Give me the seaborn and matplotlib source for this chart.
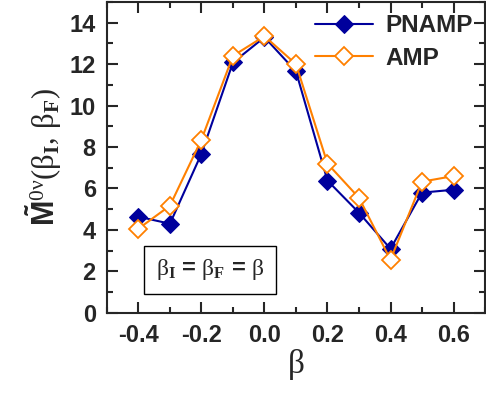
import matplotlib
matplotlib.use("Agg")
import matplotlib.pyplot as plt
import seaborn as sns
import pandas as pd
from matplotlib.ticker import MultipleLocator

beta = [-0.4, -0.3, -0.2, -0.1, 0.0, 0.1, 0.2, 0.3, 0.4, 0.5, 0.6]
pnamp = [4.64, 4.30, 7.68, 12.08, 13.30, 11.65, 6.38, 4.83, 3.09, 5.80, 5.94]
amp = [4.06, 5.17, 8.36, 12.40, 13.35, 12.00, 7.20, 5.55, 2.56, 6.33, 6.60]
x_ticks = [-0.4, -0.2, 0.0, 0.2, 0.4, 0.6]
x_tick_labels = ["-0.4", "-0.2", "0.0", "0.2", "0.4", "0.6"]

sns.set_style("ticks")
plt.rcParams['font.family'] = ['Liberation Sans', 'DejaVu Sans']
plt.rcParams['font.weight'] = 'bold'
plt.rcParams['mathtext.fontset'] = 'custom'
plt.rcParams['mathtext.rm'] = 'Liberation Serif:weight=normal'
plt.rcParams['mathtext.it'] = 'Liberation Serif:weight=normal'
plt.rcParams['mathtext.bf'] = 'Liberation Sans:weight=bold'
plt.rcParams['mathtext.sf'] = 'Liberation Serif:weight=bold'

fig = plt.figure(figsize=(4.86, 3.96), dpi=100)
ax = fig.add_axes([0.22, 0.21, 0.778, 0.785])

df1 = pd.DataFrame({"beta": beta, "val": pnamp})
df2 = pd.DataFrame({"beta": beta, "val": amp})

navy = "#00009C"
orange = "#FF8000"
sns.lineplot(data=df1, x="beta", y="val", ax=ax, color=navy, lw=1.5,
             marker="D", markersize=9, markerfacecolor=navy, markeredgecolor=navy,
             label="PNAMP")
sns.lineplot(data=df2, x="beta", y="val", ax=ax, color=orange, lw=1.5,
             marker="D", markersize=9, markerfacecolor="white", markeredgecolor=orange,
             markeredgewidth=1.3, label="AMP")

ax.set_xlim(-0.5, 0.7)
ax.set_ylim(0, 15)
ax.set_xticks(x_ticks)
ax.set_xticklabels(x_tick_labels)
ax.xaxis.set_minor_locator(MultipleLocator(0.1))
ax.yaxis.set_major_locator(MultipleLocator(2))
ax.yaxis.set_minor_locator(MultipleLocator(1))
ax.tick_params(which='both', direction='in', top=True, right=True, width=1.5)
ax.tick_params(which='major', length=8, labelsize=17, pad=8)
ax.tick_params(which='minor', length=4.5)
for lab in ax.get_xticklabels() + ax.get_yticklabels():
    lab.set_fontweight('bold')
for s in ax.spines.values():
    s.set_linewidth(1.5)
    s.set_visible(True)

ax.set_xlabel(r"$\beta$", fontsize=24, labelpad=0)
ax.set_ylabel(r"$\mathbf{\tilde{M}}^{0\nu}(\beta_{\mathsf{I}},\,\beta_{\mathsf{F}})$", fontsize=22, labelpad=4)

leg = ax.legend(loc="upper right", frameon=False, handlelength=2.4,
                handletextpad=0.5, borderaxespad=0.1, labelspacing=0.4,
                prop={'weight': 'bold', 'size': 17.5})

ax.text(0.13, 0.138, r"$\beta_{\mathsf{I}}$ = $\beta_{\mathsf{F}}$ = $\beta$", transform=ax.transAxes,
        fontsize=17, fontweight='bold', va='center', ha='left',
        bbox=dict(boxstyle='square,pad=0.5', fc='white', ec='black', lw=1))

fig.savefig("out.png", dpi=100)
